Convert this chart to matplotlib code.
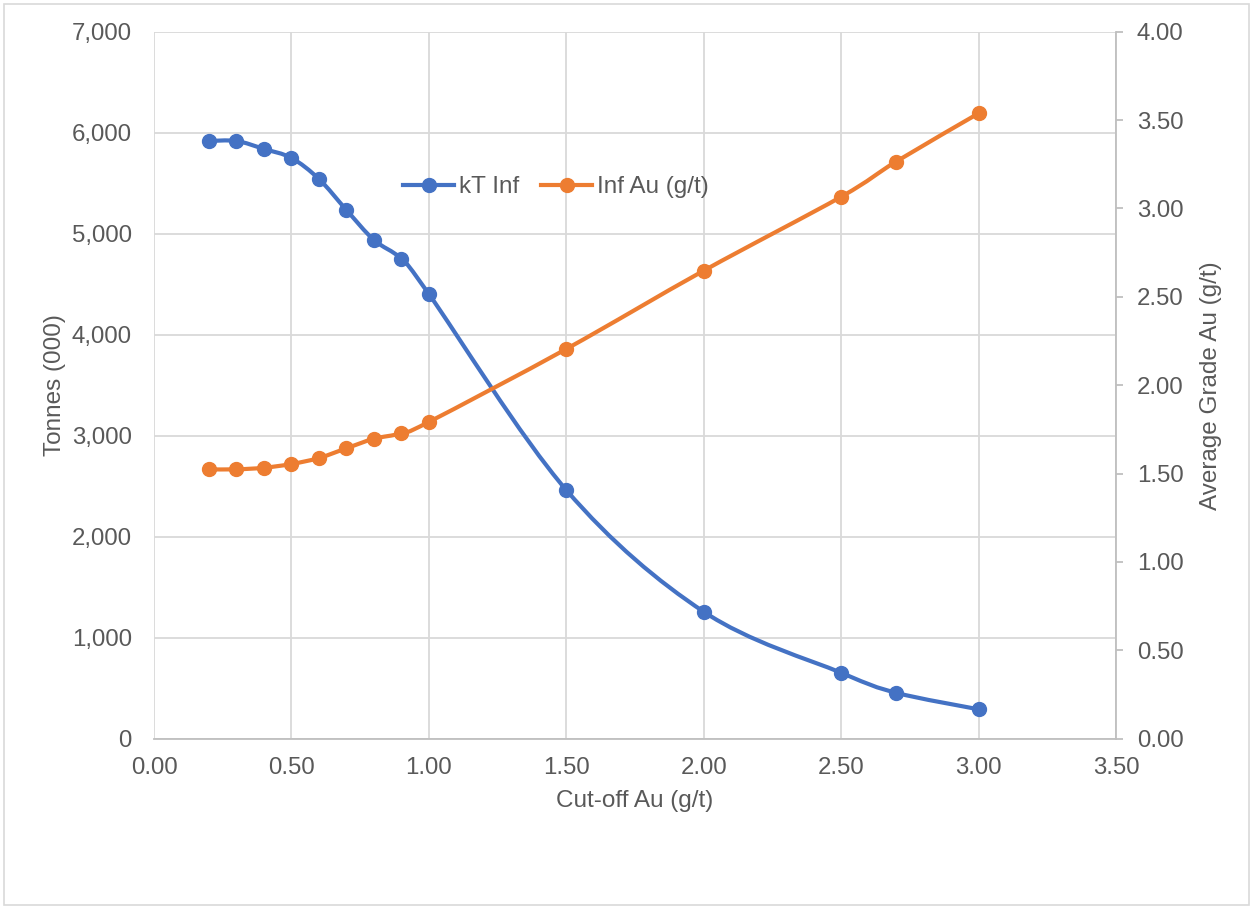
import matplotlib
matplotlib.use("Agg")
import matplotlib.pyplot as plt
from matplotlib.path import Path
from matplotlib.patches import PathPatch, Rectangle
from matplotlib.lines import Line2D
from matplotlib.ticker import FuncFormatter, MultipleLocator
import numpy as np

plt.rcParams['font.family'] = ['Liberation Sans', 'DejaVu Sans']

# Cut-off grade (g/t) and the two grade-tonnage series
cutoff = [0.2, 0.3, 0.4, 0.5, 0.6, 0.7, 0.8, 0.9, 1.0, 1.5, 2.0, 2.5, 2.7, 3.0]
kt_inf = [5918, 5918, 5839, 5750, 5542, 5235, 4938, 4750, 4403, 2462, 1257, 653, 455, 291]
inf_au = [1.524, 1.524, 1.533, 1.554, 1.588, 1.643, 1.697, 1.728, 1.792, 2.205, 2.648, 3.066, 3.265, 3.538]

series_names = ["kT Inf", "Inf Au (g/t)"]
x_label = "Cut-off Au (g/t)"
y_left_label = "Tonnes (000)"
y_right_label = "Average Grade Au (g/t)"

BLUE = "#4472C4"
ORANGE = "#ED7D31"
TEXT = "#595959"
GRID = "#D9D9D9"
AXIS = "#BFBFBF"

TICK_FS = 17.3
TITLE_FS = 17.5


def smooth_path(xs, ys):
    """Cubic Bezier path through the points (Catmull-Rom style smoothing)."""
    pts = np.column_stack([xs, ys]).astype(float)
    n = len(pts)
    verts = [pts[0]]
    codes = [Path.MOVETO]
    for i in range(n - 1):
        p0 = pts[max(i - 1, 0)]
        p1 = pts[i]
        p2 = pts[i + 1]
        p3 = pts[min(i + 2, n - 1)]
        c1 = p1 + (p2 - p0) / 6.0
        c2 = p2 - (p3 - p1) / 6.0
        verts += [c1, c2, p2]
        codes += [Path.CURVE4] * 3
    return Path(verts, codes)


fig = plt.figure(figsize=(12.53, 9.06), dpi=100)
fig.patches.append(Rectangle((0.003, 0.001), 0.994, 0.995, transform=fig.transFigure,
                             fill=False, edgecolor=GRID, linewidth=1.2))

ax = fig.add_axes([154 / 1253, 1 - 738.7 / 906, (1116 - 154) / 1253, (738.7 - 31.7) / 906])
ax2 = ax.twinx()

ax.set_xlim(0, 3.5)
ax.set_ylim(0, 7000)
ax2.set_ylim(0, 4.0)

ax.xaxis.set_major_locator(MultipleLocator(0.5))
ax.yaxis.set_major_locator(MultipleLocator(1000))
ax2.yaxis.set_major_locator(MultipleLocator(0.5))
ax.xaxis.set_major_formatter(FuncFormatter(lambda v, p: f"{v:.2f}"))
ax.yaxis.set_major_formatter(FuncFormatter(lambda v, p: f"{v:,.0f}"))
ax2.yaxis.set_major_formatter(FuncFormatter(lambda v, p: f"{v:.2f}"))

ax.grid(True, color=GRID, linewidth=1.3)
ax.set_axisbelow(True)

for s in ["top", "right", "left"]:
    ax.spines[s].set_visible(False)
ax.spines["bottom"].set_color(AXIS)
ax.spines["bottom"].set_linewidth(1.3)
for s in ["top", "left", "bottom"]:
    ax2.spines[s].set_visible(False)
ax2.spines["right"].set_color(AXIS)
ax2.spines["right"].set_linewidth(1.3)

ax.tick_params(axis="x", length=0, pad=13, labelsize=TICK_FS, labelcolor=TEXT)
ax.tick_params(axis="y", length=0, pad=16, labelsize=TICK_FS, labelcolor=TEXT)
ax2.tick_params(axis="y", length=5, width=1.3, color=AXIS, pad=10, labelsize=TICK_FS, labelcolor=TEXT)

ax.set_xlabel(x_label, fontsize=TITLE_FS, color=TEXT, labelpad=8)
ax.set_ylabel(y_left_label, fontsize=TITLE_FS, color=TEXT, labelpad=4)
ax2.set_ylabel(y_right_label, fontsize=TITLE_FS, color=TEXT, labelpad=12)

# Tonnage curve on the left axis
ax.add_patch(PathPatch(smooth_path(cutoff, kt_inf), facecolor="none", edgecolor=BLUE,
                       linewidth=3, capstyle="round", joinstyle="round", zorder=3))
ax.plot(cutoff, kt_inf, linestyle="none", marker="o", markersize=10,
        color=BLUE, zorder=4, clip_on=False)

# Average grade curve on the right axis
ax2.add_patch(PathPatch(smooth_path(cutoff, inf_au), facecolor="none", edgecolor=ORANGE,
                        linewidth=3, capstyle="round", joinstyle="round", zorder=3))
ax2.plot(cutoff, inf_au, linestyle="none", marker="o", markersize=10,
         color=ORANGE, zorder=4, clip_on=False)

handles = [Line2D([], [], color=BLUE, linewidth=3, marker="o", markersize=10),
           Line2D([], [], color=ORANGE, linewidth=3, marker="o", markersize=10)]
leg = ax2.legend(handles, series_names, loc="center", bbox_to_anchor=(0.418, 0.78),
                 ncol=2, frameon=False, fontsize=TITLE_FS, handlelength=2.1,
                 handletextpad=0.2, columnspacing=0.9)
for t in leg.get_texts():
    t.set_color(TEXT)

fig.savefig("out.png", dpi=100)
